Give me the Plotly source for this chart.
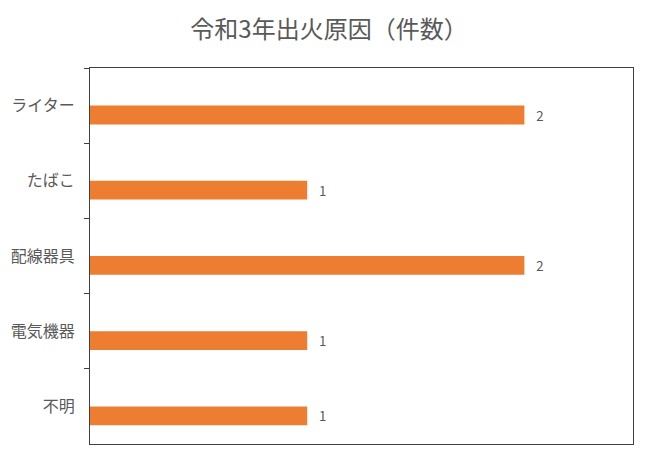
import plotly.graph_objects as go

# 出火原因と件数
causes = ['ライター', 'たばこ', '配線器具', '電気機器', '不明']
counts = [2, 1, 2, 1, 1]

font_jp = "Noto Sans CJK JP, sans-serif"
grey_txt = '#595959'

fig = go.Figure(go.Bar(
    x=counts, y=causes, orientation='h',
    marker=dict(color='#ED7D31', line=dict(width=0)),
    width=0.25, offset=0,
    text=['   ' + str(c) for c in counts],
    textposition='outside',
    textfont=dict(family=font_jp, size=14, color=grey_txt),
    cliponaxis=False,
))

# the page has an 8px body margin, so the figure is a bit smaller than the window
fig.update_layout(
    width=642, height=456,
    margin=dict(l=82, r=17, t=60, b=20),
    title=dict(text='令和3年出火原因（件数）', x=0.5, xanchor='center',
               y=0.952, yanchor='middle',
               font=dict(family=font_jp, size=24, color=grey_txt)),
    plot_bgcolor='white', paper_bgcolor='white',
    showlegend=False,
    font=dict(family=font_jp, color=grey_txt),
)

fig.update_xaxes(range=[0, 2.5], showgrid=False, zeroline=False, showticklabels=False,
                 showline=True, mirror=True, linecolor='#404040', linewidth=1.2,
                 automargin=False)
fig.update_yaxes(autorange='reversed', showgrid=False, showline=True, mirror=True,
                 linecolor='#404040', linewidth=1.2, automargin=False,
                 ticks='outside', tickson='boundaries', ticklen=5, tickcolor='#404040',
                 ticklabelstandoff=11,
                 tickfont=dict(family=font_jp, size=16, color=grey_txt))

fig.write_html("out.html")
